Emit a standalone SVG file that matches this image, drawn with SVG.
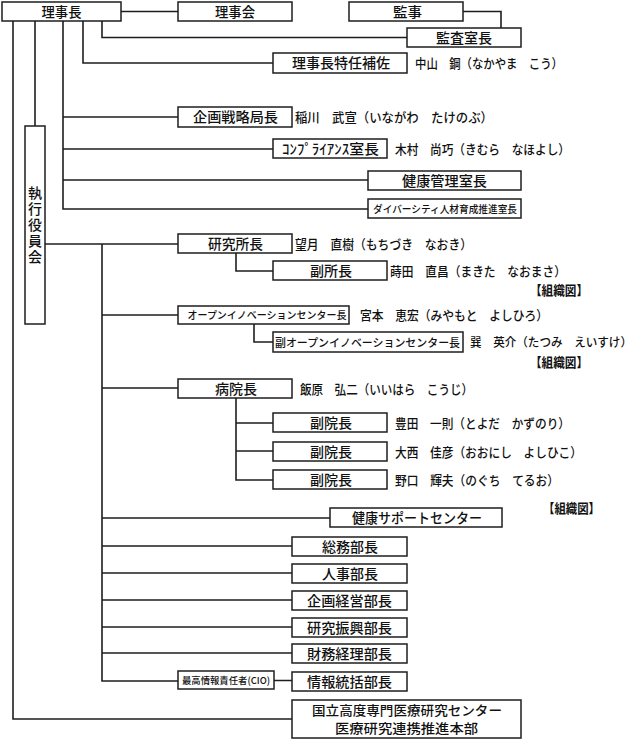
<svg xmlns="http://www.w3.org/2000/svg" width="640" height="740" viewBox="0 0 640 740">
<style>
rect.b{fill:#fff;stroke:#1e1e1e;stroke-width:1.5}
#connectors path{fill:none;stroke:#1e1e1e;stroke-width:1.6}
text{font-family:"Noto Sans CJK JP","Noto Sans",sans-serif;fill:#111;font-weight:500}
.l{font-size:14px;text-anchor:middle}
.s{font-size:10px;text-anchor:middle}
.n{font-size:13px}
.z{font-size:13px;font-weight:bold}
.v{font-size:14px;writing-mode:vertical-rl;text-anchor:middle;letter-spacing:2px}
</style>
<rect width="640" height="740" fill="#fff"/>
<g id="connectors">
<path d="M121,11.5H178"/>
<path d="M463,11.5H501V28"/>
<path d="M13,21V719H292"/>
<path d="M35,21V126"/>
<path d="M63,21V209H368M63,117H178M63,149H273M63,180H368"/>
<path d="M83,21V63H273"/>
<path d="M102,21V37.5H407"/>
<path d="M45,244H178"/>
<path d="M102,244V681H178M274,680.5H292"/>
<path d="M102,315H178M102,388H178M102,518H330M102,546H292M102,573H292M102,600H292M102,627H292M102,653H292"/>
<path d="M236,253V271H273"/>
<path d="M254,324V342H273"/>
<path d="M236,398V480H273M236,423H273M236,451H273"/>
</g>
<g id="n-rijicho"><rect class="b" x="2" y="2" width="119" height="19"/><text class="l" x="61.5" y="16.5" textLength="40" lengthAdjust="spacingAndGlyphs">理事長</text></g>
<g id="n-rijikai"><rect class="b" x="178" y="2" width="114" height="19"/><text class="l" x="235" y="16.5" textLength="40" lengthAdjust="spacingAndGlyphs">理事会</text></g>
<g id="n-kanji"><rect class="b" x="349" y="2" width="114" height="19"/><text class="l" x="407.5" y="16.5" textLength="29" lengthAdjust="spacingAndGlyphs">監事</text></g>
<g id="n-kansa"><rect class="b" x="407" y="28" width="114" height="19"/><text class="l" x="464" y="42.5" textLength="56" lengthAdjust="spacingAndGlyphs">監査室長</text></g>
<g id="n-hosa"><rect class="b" x="273" y="53" width="134" height="20"/><text class="l" x="341" y="68" textLength="98" lengthAdjust="spacingAndGlyphs">理事長特任補佐</text><text class="n" x="415" y="68" textLength="148" lengthAdjust="spacingAndGlyphs">中山　鋼（なかやま　こう）</text></g>
<g id="n-kikaku"><rect class="b" x="178" y="107" width="114" height="20"/><text class="l" x="235.5" y="122" textLength="85" lengthAdjust="spacingAndGlyphs">企画戦略局長</text><text class="n" x="295" y="122" textLength="198" lengthAdjust="spacingAndGlyphs">稲川　武宣（いながわ　たけのぶ）</text></g>
<g id="n-comp"><rect class="b" x="273" y="139" width="114" height="19"/><text class="l" x="330.5" y="153.5" textLength="97" lengthAdjust="spacingAndGlyphs">ｺﾝﾌﾟﾗｲｱﾝｽ室長</text><text class="n" x="395" y="153.5" textLength="175" lengthAdjust="spacingAndGlyphs">木村　尚巧（きむら　なほよし）</text></g>
<g id="n-kenko"><rect class="b" x="368" y="171" width="153" height="19"/><text class="l" x="444.5" y="185.5" textLength="85" lengthAdjust="spacingAndGlyphs">健康管理室長</text></g>
<g id="n-diversity"><rect class="b" x="368" y="199" width="153" height="19"/><text class="s" x="445" y="212.5" textLength="144" lengthAdjust="spacingAndGlyphs">ダイバーシティ人材育成推進室長</text></g>
<g id="n-shikko"><rect class="b" x="25" y="126" width="20" height="198"/><text class="v" x="35" y="226">執行役員会</text></g>
<g id="n-kenkyusho"><rect class="b" x="178" y="234" width="114" height="19"/><text class="l" x="235.5" y="248.5" textLength="55" lengthAdjust="spacingAndGlyphs">研究所長</text><text class="n" x="295" y="248.5" textLength="177" lengthAdjust="spacingAndGlyphs">望月　直樹（もちづき　なおき）</text></g>
<g id="n-fukusho"><rect class="b" x="273" y="261" width="114" height="19"/><text class="l" x="331" y="275.5" textLength="42" lengthAdjust="spacingAndGlyphs">副所長</text><text class="n" x="390" y="275.5" textLength="176" lengthAdjust="spacingAndGlyphs">蒔田　直昌（まきた　なおまさ）</text><text class="z" x="530" y="295" textLength="58" lengthAdjust="spacingAndGlyphs">【組織図】</text></g>
<g id="n-oic"><rect class="b" x="178" y="306" width="171" height="18"/><text class="s" x="267" y="319" textLength="159" lengthAdjust="spacingAndGlyphs">オープンイノベーションセンター長</text><text class="n" x="360" y="320" textLength="188" lengthAdjust="spacingAndGlyphs">宮本　恵宏（みやもと　よしひろ）</text></g>
<g id="n-fukuoic"><rect class="b" x="273" y="332" width="190" height="20"/><text class="l" x="367.5" y="346.5" style="font-size:11px" textLength="185" lengthAdjust="spacingAndGlyphs">副オープンイノベーションセンター長</text><text class="n" x="470" y="346.5" style="font-size:12px" textLength="162" lengthAdjust="spacingAndGlyphs">巽　英介（たつみ　えいすけ）</text><text class="z" x="530" y="367" textLength="58" lengthAdjust="spacingAndGlyphs">【組織図】</text></g>
<g id="n-byoin"><rect class="b" x="178" y="379" width="114" height="19"/><text class="l" x="236" y="393.5" textLength="42" lengthAdjust="spacingAndGlyphs">病院長</text><text class="n" x="300" y="393.5" textLength="173" lengthAdjust="spacingAndGlyphs">飯原　弘二（いいはら　こうじ）</text></g>
<g id="n-fuku1"><rect class="b" x="273" y="413" width="114" height="19"/><text class="l" x="331" y="427.5" textLength="42" lengthAdjust="spacingAndGlyphs">副院長</text><text class="n" x="395" y="427.5" textLength="175" lengthAdjust="spacingAndGlyphs">豊田　一則（とよだ　かずのり）</text></g>
<g id="n-fuku2"><rect class="b" x="273" y="442" width="114" height="19"/><text class="l" x="331" y="456.5" textLength="42" lengthAdjust="spacingAndGlyphs">副院長</text><text class="n" x="395" y="456.5" textLength="187" lengthAdjust="spacingAndGlyphs">大西　佳彦（おおにし　よしひこ）</text></g>
<g id="n-fuku3"><rect class="b" x="273" y="470" width="114" height="19"/><text class="l" x="331" y="484.5" textLength="42" lengthAdjust="spacingAndGlyphs">副院長</text><text class="n" x="395" y="484.5" textLength="164" lengthAdjust="spacingAndGlyphs">野口　輝夫（のぐち　てるお）</text><text class="z" x="543" y="513" textLength="57" lengthAdjust="spacingAndGlyphs">【組織図】</text></g>
<g id="n-support"><rect class="b" x="330" y="508" width="172" height="19"/><text class="l" x="417" y="522.5" textLength="130" lengthAdjust="spacingAndGlyphs">健康サポートセンター</text></g>
<g id="n-somu"><rect class="b" x="292" y="537" width="115" height="19"/><text class="l" x="350" y="551.5" textLength="56" lengthAdjust="spacingAndGlyphs">総務部長</text></g>
<g id="n-jinji"><rect class="b" x="292" y="564" width="115" height="19"/><text class="l" x="350" y="578.5" textLength="56" lengthAdjust="spacingAndGlyphs">人事部長</text></g>
<g id="n-keiei"><rect class="b" x="292" y="591" width="115" height="19"/><text class="l" x="349.5" y="605.5" textLength="85" lengthAdjust="spacingAndGlyphs">企画経営部長</text></g>
<g id="n-shinko"><rect class="b" x="292" y="618" width="115" height="19"/><text class="l" x="349.5" y="632.5" textLength="85" lengthAdjust="spacingAndGlyphs">研究振興部長</text></g>
<g id="n-zaimu"><rect class="b" x="292" y="644" width="115" height="19"/><text class="l" x="349.5" y="658.5" textLength="85" lengthAdjust="spacingAndGlyphs">財務経理部長</text></g>
<g id="n-cio"><rect class="b" x="178" y="671" width="96" height="18"/><text class="s" x="226" y="684" style="font-size:9.5px" textLength="88" lengthAdjust="spacingAndGlyphs">最高情報責任者(CIO)</text></g>
<g id="n-joho"><rect class="b" x="292" y="672" width="115" height="19"/><text class="l" x="349.5" y="686.5" textLength="85" lengthAdjust="spacingAndGlyphs">情報統括部長</text></g>
<g id="n-ncmrc"><rect class="b" x="292" y="700" width="229" height="38"/><text class="l" x="407" y="714.5" style="font-size:13px" textLength="190" lengthAdjust="spacingAndGlyphs">国立高度専門医療研究センター</text><text class="l" x="406.5" y="732.5" style="font-size:13px" textLength="143" lengthAdjust="spacingAndGlyphs">医療研究連携推進本部</text></g>
</svg>
